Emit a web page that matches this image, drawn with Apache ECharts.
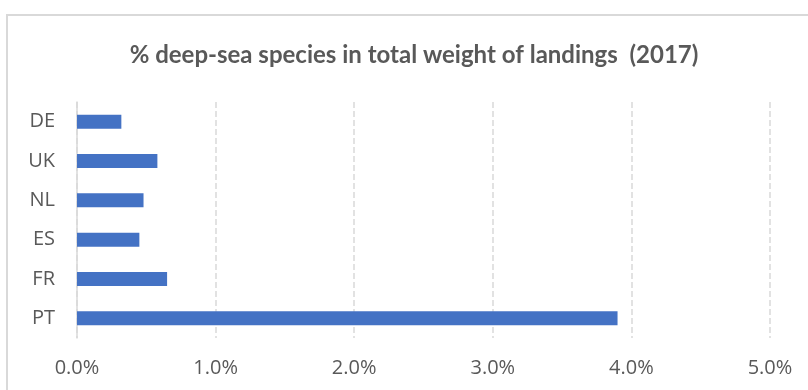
<!DOCTYPE html>
<html>
<head>
<meta charset="utf-8">
<script src="https://cdn.jsdelivr.net/npm/echarts@6/dist/echarts.min.js"></script>
<style>
html,body{margin:0;padding:0;background:#fff;}
#chart{width:808px;height:390px;}
</style>
</head>
<body>
<div id="chart"></div>
<script>
// landings data (percent)
var countries = ['DE', 'UK', 'NL', 'ES', 'FR', 'PT'];
var shares = [0.32, 0.58, 0.48, 0.45, 0.65, 3.9];
var xTicks = [0, 1, 2, 3, 4, 5];
var titleText = '% deep-sea species in total weight of landings  (2017)';

var chart = echarts.init(document.getElementById('chart'));
var option = {
	animation: false,
	textStyle: {
		fontFamily: 'Open Sans'
	},
	graphic: [{
		type: 'rect',
		shape: {x: 7, y: 15, width: 840, height: 420},
		style: {fill: 'none', stroke: '#d9d9d9', lineWidth: 2}
	}, {
		type: 'text',
		x: 414,
		y: 55,
		style: {
			text: titleText,
			fill: '#595959',
			font: 'bold 24px Lato',
			textAlign: 'center',
			textVerticalAlign: 'middle'
		}
	}],
	grid: {
		left: 77,
		right: 38,
		top: 102,
		bottom: 52
	},
	xAxis: {
		type: 'value',
		min: xTicks[0],
		max: xTicks[xTicks.length - 1],
		interval: 1,
		axisLine: {show: false},
		axisTick: {show: false},
		axisLabel: {
			margin: 20,
			color: '#595959',
			fontSize: 20,
			formatter: function(v) {
				return v.toFixed(1) + '%';
			}
		},
		splitLine: {
			show: true,
			lineStyle: {color: '#d9d9d9', width: 1.5, type: [6, 3]}
		}
	},
	yAxis: {
		type: 'category',
		data: countries,
		inverse: true,
		axisLine: {lineStyle: {color: '#d9d9d9', width: 1.5}},
		axisTick: {show: false},
		axisLabel: {
			margin: 22,
			color: '#595959',
			fontSize: 20
		}
	},
	series: [{
		type: 'bar',
		data: shares,
		barWidth: 14,
		itemStyle: {color: '#4472C4'}
	}]
};
chart.setOption(option);
</script>
</body>
</html>
